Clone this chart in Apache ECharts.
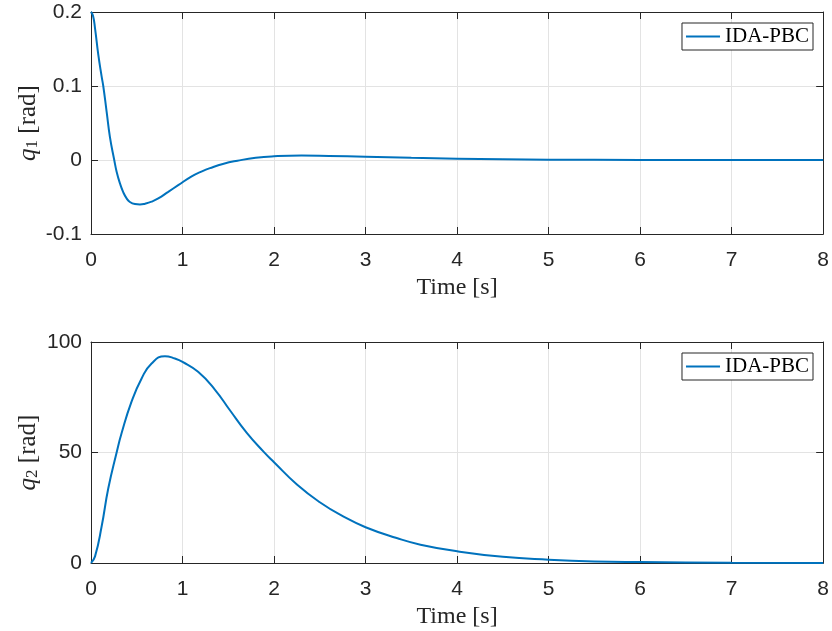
<!DOCTYPE html>
<html>
<head>
<meta charset="utf-8">
<script src="https://cdn.jsdelivr.net/npm/echarts@6/dist/echarts.min.js"></script>
<style>html,body{margin:0;padding:0;background:#fff}#c{width:832px;height:631px}</style>
</head>
<body>
<div id="c"></div>
<script>
const seriesName = 'IDA-PBC';
const xTicks = [0, 1, 2, 3, 4, 5, 6, 7, 8];
const q1Time = [0, 0.022, 0.044, 0.080, 0.116, 0.134, 0.171, 0.207, 0.254, 0.280, 0.316, 0.353, 0.389, 0.425, 0.480, 0.535, 0.590, 0.662, 0.735, 0.844, 0.953, 1.1, 1.2, 1.3, 1.45, 1.6, 1.8, 2.0, 2.3, 2.6, 3.0, 3.5, 4.0, 4.5, 5.0, 6.0, 7.0, 8.0];
const q1Vals = [0.2, 0.195, 0.178, 0.142, 0.113, 0.1, 0.065, 0.031, 0, -0.0158, -0.0315, -0.0437, -0.0518, -0.0568, -0.0595, -0.060, -0.059, -0.0563, -0.052, -0.043, -0.034, -0.022, -0.016, -0.011, -0.005, -0.001, 0.003, 0.005, 0.006, 0.0055, 0.0045, 0.003, 0.0018, 0.001, 0.0005, 0.0001, 0, 0];
const q2Time = [0, 0.044, 0.116, 0.189, 0.28, 0.334, 0.443, 0.553, 0.662, 0.808, 0.917, 1.0, 1.17, 1.353, 1.52, 1.70, 1.885, 2.0, 2.25, 2.5, 2.76, 3.0, 3.34, 3.6, 4.0, 4.5, 5.0, 5.5, 6.0, 7.0, 8.0];
const q2Vals = [0, 3.0, 16.5, 33.8, 50, 58.7, 73, 83.5, 90.3, 93.6, 92.5, 91, 86.5, 78.5, 69, 59, 50.4, 45.6, 35.5, 27.5, 21, 16.2, 11.3, 8.3, 5.3, 2.8, 1.5, 0.7, 0.4, 0.1, 0];
const q1Ticks = [-0.1, 0, 0.1, 0.2];
const q2Ticks = [0, 50, 100];

const AX = '#262626';
const tickFont = {fontFamily: 'Liberation Sans', fontSize: 21, color: AX};
const serif = 'Liberation Serif';

function xMain(gi) {
  return {
    type: 'value', gridIndex: gi, position: 'bottom',
    min: xTicks[0], max: xTicks[xTicks.length - 1], interval: 1,
    axisLine: {show: true, onZero: false, lineStyle: {color: AX, width: 1}},
    axisTick: {show: true, inside: true, length: 7, lineStyle: {color: AX}},
    axisLabel: Object.assign({margin: 16}, tickFont),
    splitLine: {show: true, lineStyle: {color: '#e3e3e3', width: 1}},
    name: 'Time [s]', nameLocation: 'middle', nameGap: 42, nameMoveOverlap: false,
    nameTextStyle: {fontFamily: serif, fontSize: 24, color: AX}
  };
}
function xMirror(gi) {
  return {
    type: 'value', gridIndex: gi, position: 'top',
    min: xTicks[0], max: xTicks[xTicks.length - 1], interval: 1,
    axisLine: {show: true, onZero: false, lineStyle: {color: AX, width: 1}},
    axisTick: {show: true, inside: true, length: 7, lineStyle: {color: AX}},
    axisLabel: {show: false}, splitLine: {show: false}
  };
}
function yMain(gi, ticks, sub) {
  return {
    type: 'value', gridIndex: gi, position: 'left',
    min: ticks[0], max: ticks[ticks.length - 1], interval: ticks[1] - ticks[0],
    axisLine: {show: true, onZero: false, lineStyle: {color: AX, width: 1}},
    axisTick: {show: true, inside: true, length: 7, lineStyle: {color: AX}},
    axisLabel: Object.assign({margin: 9}, tickFont),
    splitLine: {show: true, lineStyle: {color: '#e3e3e3', width: 1}},
    name: '{i|q}{s|' + sub + '}{n| [rad]}', nameLocation: 'middle', nameGap: 50, nameRotate: 90,
    nameMoveOverlap: false,
    nameTextStyle: {
      color: AX,
      rich: {
        i: {fontFamily: serif, fontStyle: 'italic', fontSize: 25, color: AX},
        s: {fontFamily: serif, fontSize: 17, color: AX, verticalAlign: 'bottom'},
        n: {fontFamily: serif, fontSize: 25, color: AX}
      }
    }
  };
}
function yMirror(gi, ticks) {
  return {
    type: 'value', gridIndex: gi, position: 'right',
    min: ticks[0], max: ticks[ticks.length - 1], interval: ticks[1] - ticks[0],
    axisLine: {show: true, onZero: false, lineStyle: {color: AX, width: 1}},
    axisTick: {show: true, inside: true, length: 7, lineStyle: {color: AX}},
    axisLabel: {show: false}, splitLine: {show: false}
  };
}
function legend(top) {
  return {
    data: [seriesName], right: 19, top: top, orient: 'horizontal',
    icon: 'rect', itemWidth: 34, itemHeight: 2,
    padding: [3, 4, 3, 4], borderColor: AX, borderWidth: 1, borderRadius: 0,
    backgroundColor: '#fff',
    textStyle: {fontFamily: serif, fontSize: 21, color: '#000'}
  };
}
const pair = (t, v) => t.map((x, i) => [x, v[i]]);

const chart = echarts.init(document.getElementById('c'), null, {renderer: 'canvas'});
chart.setOption({
  animation: false,
  backgroundColor: '#fff',
  grid: [
    {left: 91, width: 733, top: 12, height: 222},
    {left: 91, width: 733, top: 342, height: 221}
  ],
  xAxis: [xMain(0), xMirror(0), xMain(1), xMirror(1)],
  yAxis: [yMain(0, q1Ticks, '1'), yMirror(0, q1Ticks), yMain(1, q2Ticks, '2'), yMirror(1, q2Ticks)],
  legend: [legend(23), legend(353)],
  series: [
    {name: seriesName, type: 'line', xAxisIndex: 0, yAxisIndex: 0, data: pair(q1Time, q1Vals),
     symbol: 'none', smooth: 0.5, lineStyle: {color: '#0072BD', width: 2}, itemStyle: {color: '#0072BD'}},
    {name: seriesName, type: 'line', xAxisIndex: 2, yAxisIndex: 2, data: pair(q2Time, q2Vals),
     symbol: 'none', smooth: 0.5, lineStyle: {color: '#0072BD', width: 2}, itemStyle: {color: '#0072BD'}}
  ]
});
</script>
</body>
</html>
